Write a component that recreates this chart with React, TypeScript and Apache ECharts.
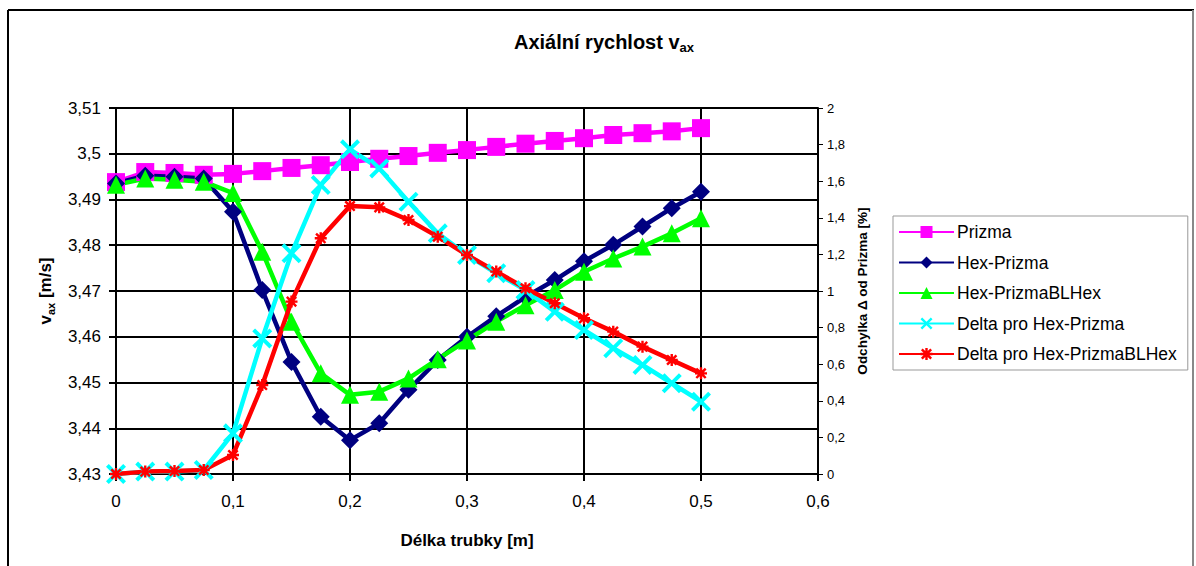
import React, { useEffect, useRef } from "react";
import * as echarts from "echarts";

const xs = [0, 0.025, 0.05, 0.075, 0.1, 0.125, 0.15, 0.175, 0.2, 0.225, 0.25, 0.275, 0.3, 0.325, 0.35, 0.375, 0.4, 0.425, 0.45, 0.475, 0.5];

const prizma = [3.4938, 3.496, 3.4958, 3.4954, 3.4956, 3.4962, 3.4969, 3.4975, 3.4982, 3.4989, 3.4995, 3.5002, 3.5008, 3.5015, 3.5022, 3.5028, 3.5034, 3.5041, 3.5045, 3.5049, 3.5056];
const hexPrizma = [3.4935, 3.4952, 3.495, 3.4946, 3.4873, 3.4702, 3.4545, 3.4425, 3.4374, 3.4411, 3.4484, 3.4549, 3.46, 3.4645, 3.4687, 3.4724, 3.4765, 3.4801, 3.4841, 3.4881, 3.4917];
const hexPrizmaBL = [3.4932, 3.4946, 3.4943, 3.4939, 3.4914, 3.4786, 3.4633, 3.452, 3.4473, 3.448, 3.4509, 3.4551, 3.4592, 3.4633, 3.4669, 3.4702, 3.4742, 3.4771, 3.4797, 3.4826, 3.4859];
const deltaHex = [0, 0.013, 0.013, 0.022, 0.222, 0.741, 1.206, 1.579, 1.774, 1.67, 1.488, 1.315, 1.197, 1.097, 1.005, 0.887, 0.787, 0.687, 0.596, 0.496, 0.395];
const deltaBL = [0, 0.013, 0.016, 0.022, 0.104, 0.486, 0.942, 1.288, 1.464, 1.457, 1.388, 1.297, 1.197, 1.106, 1.015, 0.933, 0.851, 0.778, 0.696, 0.623, 0.55];

const seriesNames = ["Prizma", "Hex-Prizma", "Hex-PrizmaBLHex", "Delta pro Hex-Prizma", "Delta pro Hex-PrizmaBLHex"];

const FONT = "'Liberation Sans', Arial, sans-serif";
const fmt = (v: number) => String(Math.round(v * 1000) / 1000).replace(".", ",");
const pairs = (ys: number[]) => xs.map((x, i) => [x, ys[i]]);

const X_SYMBOL = "path://M0,1.4 L1.4,0 L5,3.6 L8.6,0 L10,1.4 L6.4,5 L10,8.6 L8.6,10 L5,6.4 L1.4,10 L0,8.6 L3.6,5 Z";
const STAR_SYMBOL = "path://M4,0 L6,0 L6,2.5 L8.2,0.4 L9.6,1.8 L7.5,4 L10,4 L10,6 L7.5,6 L9.6,8.2 L8.2,9.6 L6,7.5 L6,10 L4,10 L4,7.5 L1.8,9.6 L0.4,8.2 L2.5,6 L0,6 L0,4 L2.5,4 L0.4,1.8 L1.8,0.4 L4,2.5 Z";

export default function App() {
  const ref = useRef<HTMLDivElement>(null);
  useEffect(() => {
    if (!ref.current) return;
    const chart = echarts.init(ref.current, null, { renderer: "svg" });
    const axisLine = { show: true, lineStyle: { color: "#000", width: 2 } };
    const mk = (name: string, data: number[], color: string, symbol: string, size: number, yIndex: number) => ({
      name,
      type: "line",
      yAxisIndex: yIndex,
      data: pairs(data),
      symbol,
      symbolSize: size,
      showAllSymbol: true,
      lineStyle: { color, width: 4.5 },
      itemStyle: { color, borderWidth: 0 },
      z: 3,
    });
    chart.setOption({
      animation: false,
      backgroundColor: "#fff",
      textStyle: { fontFamily: FONT },
      title: {
        text: "{a|Axiální rychlost v}{s|ax}",
        left: 599,
        textAlign: "center",
        top: 27,
        textStyle: {
          rich: {
            a: { fontSize: 20, fontWeight: "bold", fontFamily: FONT, color: "#000", lineHeight: 22, padding: [0, 0, 2, 0], verticalAlign: "bottom" },
            s: { fontSize: 13, fontWeight: "bold", fontFamily: FONT, color: "#000", lineHeight: 13, verticalAlign: "bottom" },
          },
        },
      },
      legend: {
        orient: "vertical",
        left: 893,
        top: 216,
        itemWidth: 55,
        itemHeight: 15,
        itemGap: 12.5,
        padding: [7, 11, 7, 5],
        borderColor: "#999",
        borderWidth: 1,
        textStyle: { fontSize: 17.5, color: "#000", fontFamily: FONT, padding: [0, 0, 0, -2] },
        data: seriesNames,
      },
      grid: { left: 116, right: 378, top: 108, bottom: 92, containLabel: false },
      xAxis: {
        type: "value",
        min: 0,
        max: 0.6,
        interval: 0.1,
        axisLine,
        axisTick: { show: true, inside: false, length: 7, lineStyle: { color: "#000", width: 2 } },
        axisLabel: { fontSize: 17, color: "#000", margin: 19, formatter: fmt, fontFamily: FONT },
        splitLine: { show: true, lineStyle: { color: "#000", width: 2 } },
        name: "Délka trubky [m]",
        nameLocation: "middle",
        nameGap: 58,
        nameTextStyle: { fontSize: 17, fontWeight: "bold", color: "#000", fontFamily: FONT },
      },
      yAxis: [
        {
          type: "value",
          min: 3.43,
          max: 3.51,
          interval: 0.01,
          position: "left",
          axisLine,
          axisTick: { show: true, inside: false, length: 7, lineStyle: { color: "#000", width: 2 } },
          axisLabel: { fontSize: 17, color: "#000", margin: 15, formatter: fmt, fontFamily: FONT },
          splitLine: { show: true, lineStyle: { color: "#000", width: 2 } },
          name: "{a|v}{s|ax}{a| [m/s]}",
          nameLocation: "middle",
          nameGap: 60,
          nameTextStyle: {
            rich: {
              a: { fontSize: 17, fontWeight: "bold", fontFamily: FONT, color: "#000", lineHeight: 20, padding: [0, 0, 2, 0], verticalAlign: "bottom" },
              s: { fontSize: 11, fontWeight: "bold", fontFamily: FONT, color: "#000", lineHeight: 12, verticalAlign: "bottom" },
            },
          },
        },
        {
          type: "value",
          min: 0,
          max: 2,
          interval: 0.2,
          position: "right",
          axisLine,
          axisTick: { show: true, inside: false, length: 5, lineStyle: { color: "#000", width: 1 } },
          axisLabel: { fontSize: 13, color: "#000", margin: 9, formatter: fmt, fontFamily: FONT },
          splitLine: { show: false },
          name: "Odchylka Δ od Prizma [%]",
          nameLocation: "middle",
          nameGap: 32,
          nameTextStyle: { fontSize: 13.5, fontWeight: "bold", color: "#000", fontFamily: FONT },
        },
      ],
      series: [
        mk(seriesNames[0], prizma, "#FF00FF", "rect", 18, 0),
        mk(seriesNames[1], hexPrizma, "#000080", "diamond", 18, 0),
        mk(seriesNames[2], hexPrizmaBL, "#00FF00", "triangle", 18, 0),
        mk(seriesNames[3], deltaHex, "#00FFFF", X_SYMBOL, 20, 1),
        mk(seriesNames[4], deltaBL, "#FF0000", STAR_SYMBOL, 12, 1),
      ],
      graphic: [
        { type: "line", shape: { x1: 8, y1: 10, x2: 8, y2: 570 }, style: { stroke: "#000", lineWidth: 2 } },
        { type: "line", shape: { x1: 8, y1: 10, x2: 1194, y2: 10 }, style: { stroke: "#000", lineWidth: 2 } },
        { type: "line", shape: { x1: 1193, y1: 10, x2: 1193, y2: 570 }, style: { stroke: "#888", lineWidth: 2 } },
      ],
    });
    return () => chart.dispose();
  }, []);
  return <div ref={ref} style={{ position: "absolute", left: 0, top: 0, width: 1196, height: 566 }} />;
}
